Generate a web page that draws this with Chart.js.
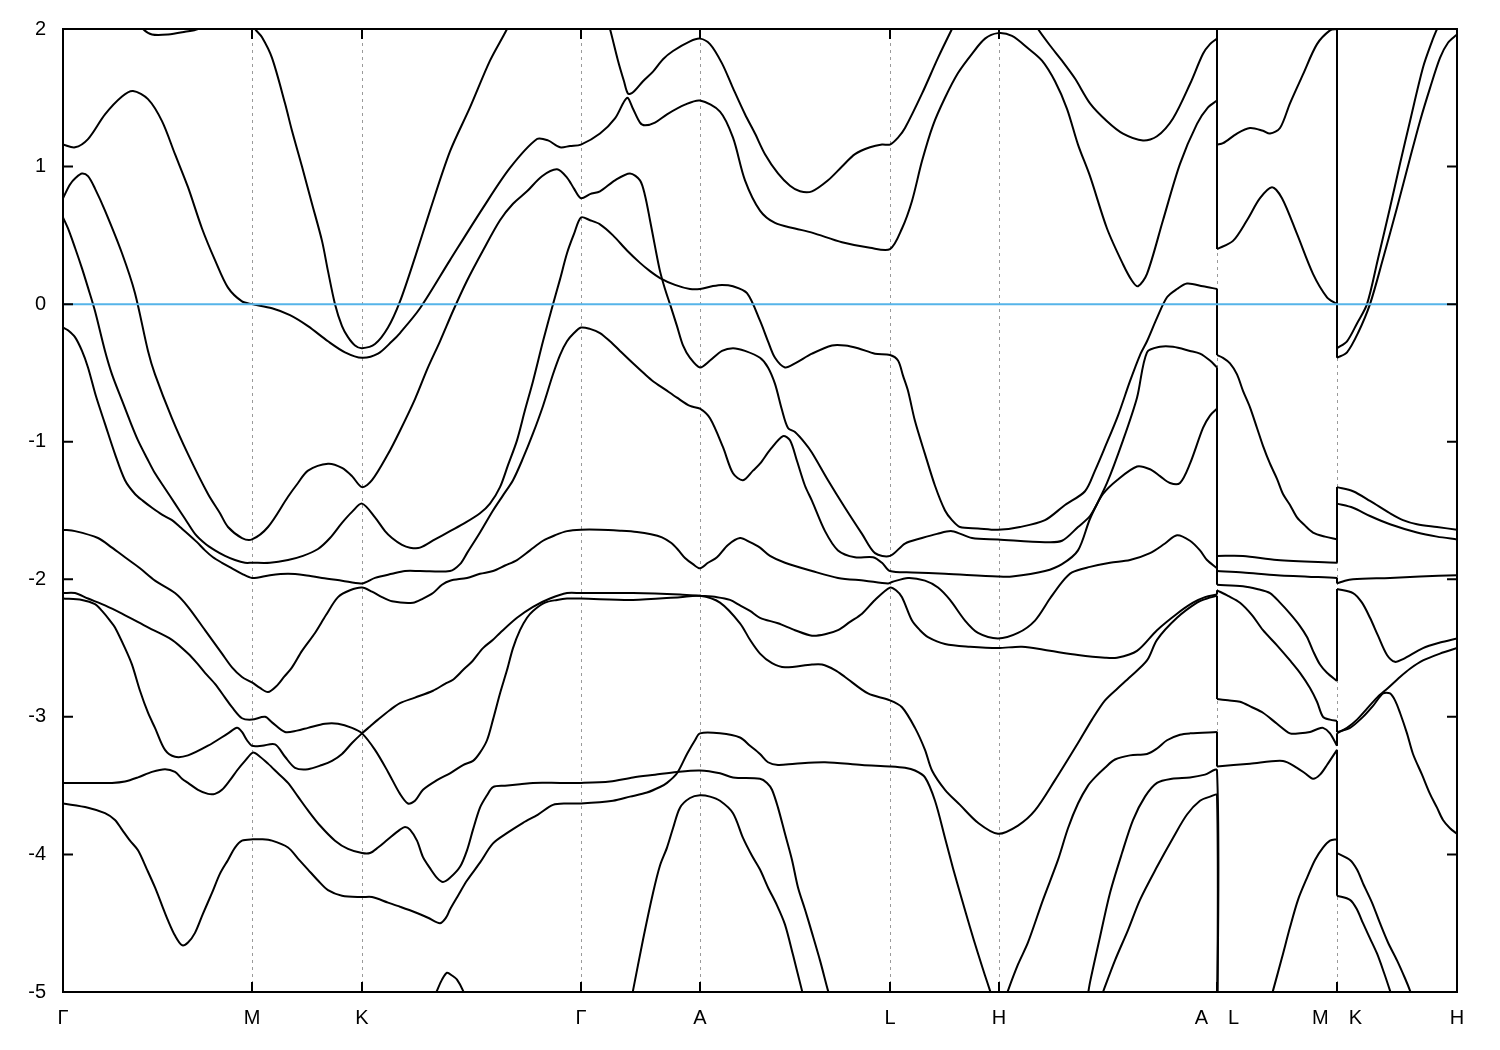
<!DOCTYPE html>
<html>
<head>
<meta charset="utf-8">
<script src="https://cdn.jsdelivr.net/npm/chart.js@4.4.0/dist/chart.umd.min.js"></script>
<style>
  html, body { margin: 0; background: #fff; }
</style>
</head>
<body>
<canvas id="bands" width="1500" height="1050"></canvas>
<script>
// k-path: high symmetry points (path length, arbitrary units) and labels
const kTicks = [0, 189, 299, 518, 637, 827, 936, 1154, 1274, 1394];
const kLabels = ["Γ", "M", "K", "Γ", "A", "L", "H", "A\u2003L", "M\u2003K", "H"];
const eTicks = [-5, -4, -3, -2, -1, 0, 1, 2];
const fermi = [[0, 0], [1394, 0]];

// bands as [k, E(eV)] pairs, Γ-M-K-Γ-A-L-H-A part
const topDip = [[75,2.06],[80,2.00],[89,1.96],[105,1.96],[122,1.98],[135,2.00],[147,2.06]];
const bandA = [[187,2.07],[192,2.00],[199,1.94],[209,1.79],[222,1.46],[229,1.26],[239,1.00],[249,0.73],[259,0.46],[265,0.24],[272,0.00],[279,-0.16],[285,-0.24],[292,-0.30],[299,-0.32],[312,-0.29],[325,-0.17],[337,0.02],[352,0.34],[367,0.68],[387,1.11],[407,1.43],[427,1.77],[444,2.00],[449,2.09]];
const bandB = [[542,2.12],[547,2.00],[555,1.77],[561,1.62],[565,1.53],[570,1.54],[580,1.62],[590,1.69],[600,1.78],[610,1.84],[627,1.91],[637,1.93],[647,1.89],[659,1.75],[670,1.57],[682,1.38],[692,1.24],[702,1.09],[715,0.95],[727,0.86],[737,0.82],[749,0.82],[765,0.90],[779,1.00],[792,1.09],[807,1.14],[819,1.16],[827,1.16],[835,1.21],[842,1.28],[859,1.53],[875,1.79],[889,2.00],[894,2.07]];
const bandC = [[967,2.10],[975,2.00],[987,1.88],[999,1.77],[1012,1.64],[1027,1.46],[1044,1.33],[1060,1.24],[1080,1.19],[1094,1.22],[1110,1.35],[1127,1.60],[1140,1.82],[1147,1.89],[1154,1.93]];
const bandD = [[0,1.16],[12,1.14],[25,1.20],[42,1.38],[59,1.51],[70,1.55],[85,1.49],[99,1.33],[112,1.09],[125,0.85],[139,0.55],[152,0.32],[165,0.12],[179,0.02],[189,0.00],[209,-0.03],[227,-0.08],[245,-0.16],[265,-0.27],[282,-0.35],[299,-0.39],[315,-0.36],[329,-0.27],[337,-0.21],[357,-0.03],[387,0.32],[420,0.70],[447,0.99],[474,1.20],[485,1.19],[497,1.14],[507,1.15],[518,1.16],[537,1.24],[552,1.35],[564,1.50],[570,1.42],[577,1.32],[582,1.30],[592,1.32],[604,1.38],[622,1.45],[637,1.48],[657,1.40],[670,1.21],[682,0.90],[697,0.68],[712,0.59],[732,0.55],[749,0.52],[779,0.45],[807,0.41],[827,0.40],[839,0.55],[849,0.75],[859,1.04],[870,1.30],[882,1.50],[895,1.68],[909,1.82],[922,1.93],[935,1.97],[949,1.95],[965,1.86],[979,1.77],[992,1.62],[1004,1.42],[1015,1.16],[1027,0.93],[1044,0.55],[1060,0.29],[1069,0.17],[1075,0.13],[1084,0.22],[1100,0.61],[1117,1.02],[1134,1.31],[1145,1.43],[1154,1.48]];
const bandE = [[0,0.77],[7,0.87],[13,0.92],[19,0.95],[25,0.93],[32,0.84],[42,0.68],[59,0.37],[72,0.08],[85,-0.34],[92,-0.51],[109,-0.83],[125,-1.09],[145,-1.38],[157,-1.52],[165,-1.62],[179,-1.70],[189,-1.71],[205,-1.62],[225,-1.40],[235,-1.30],[245,-1.21],[265,-1.16],[279,-1.19],[289,-1.25],[299,-1.33],[309,-1.28],[325,-1.09],[337,-0.92],[352,-0.69],[365,-0.46],[377,-0.27],[390,-0.05],[404,0.17],[420,0.39],[437,0.61],[450,0.73],[464,0.82],[479,0.93],[494,0.98],[504,0.92],[511,0.84],[518,0.77],[527,0.80],[537,0.82],[552,0.90],[567,0.95],[577,0.90],[582,0.79],[587,0.61],[592,0.42],[597,0.24],[602,0.11],[607,0.00],[614,-0.16],[620,-0.30],[627,-0.39],[637,-0.46],[647,-0.41],[659,-0.34],[670,-0.32],[682,-0.34],[697,-0.39],[705,-0.46],[712,-0.58],[719,-0.77],[725,-0.90],[732,-0.93],[742,-1.01],[749,-1.08],[765,-1.28],[782,-1.48],[799,-1.67],[812,-1.81],[827,-1.83],[842,-1.74],[859,-1.70],[874,-1.67],[889,-1.65],[909,-1.70],[935,-1.71],[982,-1.73],[999,-1.72],[1015,-1.62],[1027,-1.54],[1040,-1.38],[1054,-1.28],[1074,-1.18],[1087,-1.20],[1097,-1.25],[1107,-1.30],[1117,-1.30],[1127,-1.16],[1140,-0.90],[1147,-0.81],[1154,-0.76]];
const bandF = [[0,0.63],[5,0.55],[12,0.41],[19,0.26],[25,0.12],[32,-0.05],[42,-0.34],[49,-0.51],[59,-0.70],[67,-0.85],[75,-0.99],[84,-1.12],[92,-1.23],[102,-1.34],[112,-1.45],[122,-1.56],[132,-1.67],[142,-1.74],[152,-1.79],[162,-1.83],[172,-1.86],[182,-1.88],[189,-1.88],[207,-1.88],[225,-1.86],[240,-1.83],[255,-1.78],[267,-1.70],[279,-1.59],[289,-1.51],[299,-1.45],[312,-1.55],[322,-1.65],[329,-1.70],[339,-1.75],[347,-1.77],[357,-1.77],[372,-1.71],[387,-1.65],[402,-1.59],[417,-1.52],[427,-1.45],[437,-1.33],[445,-1.17],[454,-0.99],[462,-0.77],[470,-0.56],[480,-0.27],[490,0.00],[497,0.18],[504,0.37],[511,0.51],[518,0.63],[527,0.61],[537,0.58],[550,0.50],[564,0.39],[577,0.30],[587,0.24],[597,0.19],[612,0.14],[627,0.11],[637,0.11],[649,0.13],[659,0.14],[670,0.13],[684,0.08],[697,-0.12],[705,-0.27],[712,-0.39],[722,-0.46],[732,-0.43],[749,-0.36],[769,-0.30],[782,-0.30],[795,-0.32],[812,-0.36],[827,-0.37],[835,-0.41],[840,-0.52],[845,-0.63],[852,-0.85],[862,-1.09],[872,-1.32],[882,-1.50],[889,-1.57],[897,-1.62],[915,-1.63],[935,-1.64],[957,-1.62],[982,-1.57],[1002,-1.46],[1022,-1.36],[1032,-1.21],[1042,-1.04],[1055,-0.81],[1067,-0.56],[1077,-0.37],[1084,-0.27],[1094,-0.10],[1104,0.05],[1114,0.11],[1124,0.15],[1140,0.13],[1154,0.11]];
const bandG = [[0,-0.17],[5,-0.19],[12,-0.24],[19,-0.34],[25,-0.46],[33,-0.67],[42,-0.87],[52,-1.09],[62,-1.28],[72,-1.38],[80,-1.43],[89,-1.48],[99,-1.53],[109,-1.57],[117,-1.62],[125,-1.67],[134,-1.73],[142,-1.79],[150,-1.84],[159,-1.88],[169,-1.92],[179,-1.96],[189,-1.99],[207,-1.97],[225,-1.96],[242,-1.97],[259,-1.99],[279,-2.01],[299,-2.03],[312,-1.99],[329,-1.96],[342,-1.94],[357,-1.94],[387,-1.94],[397,-1.89],[404,-1.81],[417,-1.66],[430,-1.50],[440,-1.39],[450,-1.28],[460,-1.12],[470,-0.94],[480,-0.74],[490,-0.51],[497,-0.37],[504,-0.27],[511,-0.21],[518,-0.17],[527,-0.18],[537,-0.21],[547,-0.27],[557,-0.34],[570,-0.43],[582,-0.51],[590,-0.56],[602,-0.62],[614,-0.68],[627,-0.74],[637,-0.76],[647,-0.83],[660,-1.04],[670,-1.23],[680,-1.28],[690,-1.21],[697,-1.16],[707,-1.06],[720,-0.96],[727,-0.99],[734,-1.14],[742,-1.32],[749,-1.43],[762,-1.65],[775,-1.79],[792,-1.84],[810,-1.84],[819,-1.88],[827,-1.94],[849,-1.95],[882,-1.96],[935,-1.98],[949,-1.98],[982,-1.94],[999,-1.89],[1015,-1.79],[1027,-1.56],[1044,-1.30],[1060,-0.99],[1074,-0.68],[1084,-0.35],[1097,-0.31],[1110,-0.31],[1127,-0.34],[1137,-0.36],[1147,-0.41],[1154,-0.46]];
const bandH = [[0,-1.64],[12,-1.65],[35,-1.70],[49,-1.77],[62,-1.84],[77,-1.92],[92,-2.01],[112,-2.10],[125,-2.20],[142,-2.37],[159,-2.54],[169,-2.64],[179,-2.71],[189,-2.75],[197,-2.79],[205,-2.82],[213,-2.78],[221,-2.71],[229,-2.64],[239,-2.52],[252,-2.39],[263,-2.26],[275,-2.13],[287,-2.08],[299,-2.06],[309,-2.09],[319,-2.13],[329,-2.16],[350,-2.17],[360,-2.14],[370,-2.10],[379,-2.04],[387,-2.01],[404,-1.99],[417,-1.96],[430,-1.94],[442,-1.90],[454,-1.86],[467,-1.79],[480,-1.72],[492,-1.68],[504,-1.65],[518,-1.64],[537,-1.640],[557,-1.647],[574,-1.656],[588,-1.672],[599,-1.695],[608,-1.735],[615,-1.785],[622,-1.845],[630,-1.89],[637,-1.92],[645,-1.88],[654,-1.84],[665,-1.75],[677,-1.70],[687,-1.73],[697,-1.77],[707,-1.83],[722,-1.88],[749,-1.94],[775,-1.99],[802,-2.01],[825,-2.03],[829,-2.02],[845,-1.99],[862,-2.01],[875,-2.06],[887,-2.15],[902,-2.30],[915,-2.39],[935,-2.43],[955,-2.39],[972,-2.30],[987,-2.14],[999,-2.02],[1009,-1.95],[1027,-1.91],[1047,-1.88],[1067,-1.86],[1087,-1.81],[1102,-1.74],[1114,-1.68],[1127,-1.72],[1137,-1.79],[1144,-1.86],[1154,-1.92]];
const bandI = [[0,-2.10],[12,-2.10],[25,-2.14],[42,-2.19],[59,-2.25],[85,-2.35],[109,-2.44],[125,-2.54],[134,-2.61],[142,-2.68],[152,-2.76],[162,-2.86],[169,-2.93],[179,-3.01],[189,-3.02],[202,-3.00],[209,-3.04],[222,-3.11],[234,-3.10],[245,-3.08],[262,-3.05],[275,-3.05],[289,-3.08],[299,-3.12],[312,-3.24],[325,-3.40],[337,-3.56],[345,-3.63],[352,-3.61],[360,-3.53],[374,-3.46],[387,-3.41],[400,-3.35],[410,-3.32],[417,-3.26],[424,-3.17],[430,-3.02],[437,-2.83],[444,-2.66],[450,-2.50],[457,-2.37],[464,-2.28],[470,-2.23],[482,-2.17],[494,-2.15],[504,-2.14],[518,-2.14],[570,-2.15],[617,-2.13],[637,-2.12],[657,-2.17],[677,-2.32],[687,-2.44],[697,-2.54],[709,-2.61],[722,-2.64],[749,-2.62],[759,-2.62],[772,-2.66],[782,-2.71],[805,-2.83],[827,-2.88],[839,-2.93],[852,-3.08],[862,-3.24],[869,-3.39],[882,-3.53],[897,-3.64],[915,-3.77],[935,-3.85],[955,-3.79],[972,-3.68],[992,-3.46],[1015,-3.19],[1029,-3.02],[1042,-2.88],[1055,-2.79],[1067,-2.71],[1084,-2.59],[1094,-2.44],[1114,-2.28],[1134,-2.17],[1144,-2.14],[1154,-2.12]];
const bandJ = [[0,-2.14],[19,-2.15],[32,-2.18],[39,-2.23],[47,-2.30],[52,-2.35],[62,-2.50],[69,-2.62],[77,-2.81],[85,-2.97],[92,-3.08],[102,-3.24],[112,-3.29],[125,-3.28],[145,-3.21],[165,-3.12],[174,-3.08],[179,-3.11],[184,-3.17],[189,-3.21],[199,-3.21],[212,-3.20],[222,-3.29],[232,-3.37],[245,-3.38],[259,-3.35],[269,-3.32],[279,-3.27],[289,-3.19],[299,-3.12],[307,-3.07],[315,-3.02],[327,-2.95],[337,-2.90],[352,-2.86],[370,-2.81],[382,-2.76],[390,-2.73],[400,-2.66],[410,-2.59],[420,-2.50],[430,-2.44],[437,-2.39],[454,-2.28],[470,-2.20],[487,-2.14],[504,-2.10],[518,-2.10],[570,-2.10],[617,-2.11],[637,-2.12],[654,-2.13],[667,-2.15],[677,-2.19],[687,-2.23],[697,-2.28],[715,-2.32],[732,-2.37],[749,-2.41],[762,-2.40],[775,-2.37],[787,-2.31],[799,-2.25],[812,-2.15],[827,-2.06],[833,-2.08],[839,-2.13],[849,-2.30],[857,-2.37],[865,-2.42],[882,-2.47],[907,-2.49],[935,-2.50],[959,-2.49],[987,-2.52],[1015,-2.55],[1042,-2.57],[1054,-2.57],[1074,-2.52],[1094,-2.37],[1114,-2.25],[1130,-2.17],[1142,-2.13],[1154,-2.11]];
const bandK = [[0,-3.48],[25,-3.48],[49,-3.48],[62,-3.47],[75,-3.44],[89,-3.40],[102,-3.38],[112,-3.40],[119,-3.45],[125,-3.48],[135,-3.53],[145,-3.56],[152,-3.56],[159,-3.53],[167,-3.46],[174,-3.39],[182,-3.32],[190,-3.26],[197,-3.29],[205,-3.34],[215,-3.41],[225,-3.48],[235,-3.58],[245,-3.68],[257,-3.79],[272,-3.90],[285,-3.96],[299,-3.99],[307,-3.99],[315,-3.95],[325,-3.89],[337,-3.82],[342,-3.80],[347,-3.82],[354,-3.90],[360,-4.02],[367,-4.10],[374,-4.17],[380,-4.20],[387,-4.17],[397,-4.09],[404,-3.97],[410,-3.82],[417,-3.66],[424,-3.57],[430,-3.51],[442,-3.50],[457,-3.49],[470,-3.48],[497,-3.48],[518,-3.48],[547,-3.47],[570,-3.44],[592,-3.42],[614,-3.40],[637,-3.39],[657,-3.41],[670,-3.44],[697,-3.45],[704,-3.48],[709,-3.53],[715,-3.66],[722,-3.85],[729,-4.04],[735,-4.24],[742,-4.40],[749,-4.57],[757,-4.77],[765,-4.99],[769,-5.09]];
const bandL = [[0,-3.63],[25,-3.66],[42,-3.70],[52,-3.75],[59,-3.82],[67,-3.90],[75,-3.97],[84,-4.11],[92,-4.24],[99,-4.37],[105,-4.48],[112,-4.59],[119,-4.66],[125,-4.64],[132,-4.57],[140,-4.43],[149,-4.28],[157,-4.14],[165,-4.04],[172,-3.95],[179,-3.90],[190,-3.89],[199,-3.89],[209,-3.90],[225,-3.95],[235,-4.03],[245,-4.11],[255,-4.19],[265,-4.26],[279,-4.30],[299,-4.31],[309,-4.31],[325,-4.35],[337,-4.38],[352,-4.42],[365,-4.46],[377,-4.50],[383,-4.46],[387,-4.40],[395,-4.30],[404,-4.19],[417,-4.06],[430,-3.92],[445,-3.84],[460,-3.77],[475,-3.71],[490,-3.64],[504,-3.63],[518,-3.63],[550,-3.61],[567,-3.58],[584,-3.55],[597,-3.51],[604,-3.48],[614,-3.41],[624,-3.27],[632,-3.17],[637,-3.12],[657,-3.12],[677,-3.15],[687,-3.21],[697,-3.27],[705,-3.33],[715,-3.35],[732,-3.34],[762,-3.33],[799,-3.35],[827,-3.36],[842,-3.37],[852,-3.39],[862,-3.44],[872,-3.61],[882,-3.88],[890,-4.10],[899,-4.33],[907,-4.53],[915,-4.72],[922,-4.88],[927,-4.99],[930,-5.06]];
const bumpLow = [[370,-5.06],[374,-4.99],[379,-4.91],[384,-4.86],[389,-4.88],[394,-4.91],[400,-4.99],[403,-5.06]];
const capA = [[567,-5.09],[570,-4.99],[580,-4.62],[590,-4.28],[597,-4.08],[604,-3.95],[610,-3.81],[617,-3.66],[627,-3.59],[637,-3.57],[647,-3.58],[657,-3.61],[670,-3.70],[680,-3.88],[689,-4.01],[697,-4.11],[705,-4.24],[714,-4.37],[722,-4.51],[730,-4.73],[739,-4.99],[742,-5.07]];
const riseH1 = [[942,-5.06],[945,-4.99],[955,-4.80],[965,-4.64],[980,-4.33],[995,-4.04],[1005,-3.81],[1015,-3.63],[1025,-3.50],[1032,-3.44],[1042,-3.37],[1052,-3.31],[1067,-3.28],[1084,-3.27],[1094,-3.23],[1104,-3.17],[1117,-3.13],[1127,-3.12],[1154,-3.11]];
const riseH2 = [[1024,-5.06],[1027,-4.93],[1037,-4.60],[1047,-4.28],[1059,-3.99],[1070,-3.75],[1082,-3.58],[1094,-3.48],[1109,-3.45],[1127,-3.44],[1142,-3.42],[1154,-3.39],[1154,-5.5]];
const riseH3 = [[1037,-5.06],[1040,-5.00],[1052,-4.77],[1065,-4.55],[1077,-4.33],[1094,-4.09],[1110,-3.88],[1124,-3.71],[1137,-3.61],[1147,-3.58],[1154,-3.57],[1154,-5.6]];

// L-M part
const lm1 = [[1154,1.16],[1160,1.17],[1174,1.24],[1187,1.28],[1200,1.26],[1207,1.24],[1217,1.28],[1227,1.46],[1240,1.67],[1254,1.89],[1267,1.99],[1274,2.00]];
const lm2 = [[1154,0.40],[1170,0.46],[1184,0.61],[1197,0.77],[1209,0.85],[1219,0.77],[1234,0.51],[1250,0.22],[1264,0.05],[1274,0.00]];
const lm3 = [[1154,-0.37],[1160,-0.39],[1167,-0.43],[1174,-0.51],[1180,-0.63],[1187,-0.75],[1194,-0.90],[1200,-1.03],[1207,-1.16],[1214,-1.27],[1220,-1.38],[1227,-1.46],[1234,-1.55],[1242,-1.61],[1250,-1.66],[1262,-1.69],[1274,-1.71]];
const lm4 = [[1154,-1.83],[1180,-1.83],[1214,-1.86],[1274,-1.88]];
const lm5 = [[1154,-1.94],[1180,-1.95],[1214,-1.97],[1274,-1.99]];
const lm6 = [[1154,-2.04],[1180,-2.05],[1194,-2.07],[1207,-2.10],[1217,-2.17],[1227,-2.25],[1237,-2.34],[1244,-2.42],[1250,-2.52],[1257,-2.62],[1264,-2.68],[1274,-2.74]];
const lm7 = [[1154,-2.08],[1165,-2.12],[1177,-2.17],[1189,-2.26],[1200,-2.37],[1214,-2.48],[1227,-2.59],[1237,-2.68],[1247,-2.79],[1254,-2.89],[1260,-3.00],[1267,-3.02],[1274,-3.03]];
const lm8 = [[1154,-2.87],[1165,-2.88],[1177,-2.89],[1189,-2.93],[1200,-2.97],[1214,-3.05],[1227,-3.12],[1237,-3.12],[1247,-3.11],[1254,-3.09],[1260,-3.08],[1267,-3.12],[1274,-3.21]];
const lm9 = [[1154,-3.36],[1187,-3.34],[1220,-3.32],[1234,-3.37],[1242,-3.41],[1250,-3.45],[1257,-3.42],[1264,-3.35],[1274,-3.24]];
const lm10 = [[1207,-5.07],[1210,-4.99],[1219,-4.75],[1227,-4.53],[1235,-4.33],[1244,-4.17],[1252,-4.04],[1260,-3.95],[1267,-3.90],[1274,-3.89]];

// K-H part
const kh1 = [[1274,-0.32],[1284,-0.27],[1294,-0.14],[1304,0.00],[1315,0.33],[1327,0.70],[1337,1.02],[1347,1.33],[1360,1.72],[1369,1.91],[1374,2.00],[1378,2.07]];
const kh2 = [[1274,-0.39],[1284,-0.35],[1295,-0.21],[1307,0.00],[1320,0.33],[1334,0.70],[1347,1.06],[1357,1.33],[1367,1.57],[1377,1.79],[1385,1.90],[1394,1.96]];
const kh3 = [[1274,-1.33],[1290,-1.36],[1307,-1.43],[1327,-1.52],[1340,-1.57],[1354,-1.60],[1374,-1.62],[1394,-1.64]];
const kh4 = [[1274,-1.45],[1290,-1.48],[1307,-1.54],[1327,-1.60],[1354,-1.66],[1374,-1.69],[1394,-1.71]];
const kh5 = [[1274,-2.03],[1282,-2.01],[1290,-2.00],[1327,-1.99],[1357,-1.98],[1394,-1.97]];
const kh6 = [[1274,-2.07],[1290,-2.10],[1299,-2.17],[1307,-2.28],[1315,-2.41],[1324,-2.55],[1332,-2.60],[1340,-2.58],[1360,-2.50],[1377,-2.46],[1394,-2.43]];
const kh7 = [[1274,-3.11],[1287,-3.08],[1300,-3.00],[1310,-2.92],[1320,-2.83],[1327,-2.83],[1332,-2.88],[1337,-2.97],[1344,-3.12],[1350,-3.27],[1359,-3.42],[1367,-3.56],[1374,-3.66],[1380,-3.75],[1387,-3.81],[1394,-3.85]];
const kh8 = [[1274,-3.12],[1284,-3.08],[1294,-3.02],[1304,-2.94],[1314,-2.86],[1325,-2.79],[1337,-2.71],[1347,-2.65],[1360,-2.59],[1377,-2.54],[1394,-2.50]];
const kh9 = [[1274,-3.99],[1287,-4.04],[1294,-4.11],[1300,-4.21],[1309,-4.35],[1317,-4.50],[1325,-4.64],[1334,-4.77],[1342,-4.90],[1347,-4.99],[1350,-5.06]];
const kh10 = [[1274,-4.30],[1287,-4.33],[1294,-4.40],[1300,-4.50],[1307,-4.61],[1314,-4.72],[1321,-4.86],[1327,-4.99],[1330,-5.06]];

const pieces = [topDip, bandA, bandB, bandC, bandD, bandE, bandF, bandG, bandH, bandI, bandJ,
  bandK, bandL, bumpLow, capA, riseH1, riseH2, riseH3,
  lm1, lm2, lm3, lm4, lm5, lm6, lm7, lm8, lm9, lm10,
  kh1, kh2, kh3, kh4, kh5, kh6, kh7, kh8, kh9, kh10];

// which piece continues which across the A|L and M|K jumps
const links = [[bandC, lm1], [bandD, lm2], [bandF, lm3], [bandG, lm4], [bandE, lm5],
  [bandH, lm6], [bandJ, lm7], [bandI, lm8], [riseH1, lm9],
  [lm1, kh1], [lm2, kh2], [lm3, kh3], [lm4, kh4], [lm5, kh5], [lm6, kh6],
  [lm7, kh7], [lm8, kh8], [lm9, kh9], [lm10, kh10]];

const toXY = arr => arr.map(p => ({ x: p[0], y: p[1] }));

const datasets = [{
  data: toXY(fermi), borderColor: "#56b4e9", borderWidth: 2, tension: 0, order: 0
}];
pieces.forEach(p => datasets.push({ data: toXY(p), borderColor: "#000", borderWidth: 2, tension: 0.3, order: 1 }));
links.forEach(([a, b]) => datasets.push({
  data: toXY([a[a.length - 1], b[0]]), borderColor: "#000", borderWidth: 2, tension: 0, order: 1
}));

const frame = {
  id: "frame",
  beforeDraw(chart) {
    const c = chart.ctx;
    c.save();
    c.fillStyle = "#fff";
    c.fillRect(0, 0, chart.width, chart.height);
    c.restore();
  },
  beforeDatasetsDraw(chart) {
    const c = chart.ctx, a = chart.chartArea, xs = chart.scales.x;
    c.save();
    c.strokeStyle = "#9a9a9a";
    c.lineWidth = 1;
    c.setLineDash([3, 4]);
    kTicks.slice(1, -1).forEach(v => {
      const x = Math.round(xs.getPixelForValue(v)) + 0.5;
      c.beginPath(); c.moveTo(x, a.top); c.lineTo(x, a.bottom); c.stroke();
    });
    c.restore();
  },
  afterDatasetsDraw(chart) {
    const c = chart.ctx, a = chart.chartArea, xs = chart.scales.x, ys = chart.scales.y;
    c.save();
    c.strokeStyle = "#000";
    c.lineWidth = 2;
    c.strokeRect(a.left, a.top, a.right - a.left, a.bottom - a.top);
    c.beginPath();
    eTicks.forEach(v => {
      const y = ys.getPixelForValue(v);
      c.moveTo(a.left, y); c.lineTo(a.left + 10, y);
      c.moveTo(a.right, y); c.lineTo(a.right - 10, y);
    });
    kTicks.forEach(v => {
      const x = xs.getPixelForValue(v);
      c.moveTo(x, a.bottom); c.lineTo(x, a.bottom - 10);
      c.moveTo(x, a.top); c.lineTo(x, a.top + 10);
    });
    c.stroke();
    c.restore();
  }
};

const tickFont = { family: "Liberation Sans", size: 20 };

new Chart(document.getElementById("bands"), {
  type: "line",
  data: { datasets },
  options: {
    responsive: false,
    animation: false,
    events: [],
    layout: { padding: { top: 28, right: 43, left: 0, bottom: 0 } },
    plugins: { legend: { display: false }, tooltip: { enabled: false } },
    elements: { point: { radius: 0 } },
    scales: {
      x: {
        type: "linear", min: 0, max: 1394,
        grid: { display: false, drawTicks: false },
        border: { display: false },
        afterBuildTicks: s => { s.ticks = kTicks.map(v => ({ value: v })); },
        afterFit: s => { s.height = 58; },
        ticks: { autoSkip: false, maxRotation: 0, padding: 14, color: "#000", font: tickFont,
          callback: (v, i) => kLabels[i] }
      },
      y: {
        min: -5, max: 2,
        grid: { display: false, drawTicks: false },
        border: { display: false },
        afterBuildTicks: s => { s.ticks = eTicks.map(v => ({ value: v })); },
        afterFit: s => { s.width = 63; },
        ticks: { padding: 17, color: "#000", font: tickFont, callback: v => String(v) }
      }
    }
  },
  plugins: [frame]
});
</script>
</body>
</html>
